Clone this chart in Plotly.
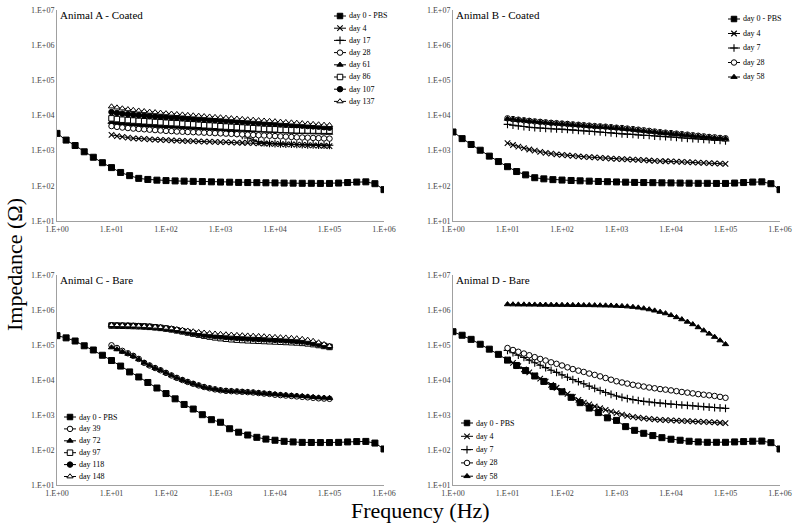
import plotly.graph_objects as go

# Frequency grids (Hz): sweep with ~6 pts/decade for PBS, 10 pts/decade for implants
mant6 = [1.0, 1.47, 2.15, 3.16, 4.64, 6.81]
mant10 = [1.0, 1.26, 1.58, 2.0, 2.51, 3.16, 3.98, 5.01, 6.31, 7.94]
freq_pbs = [m * 10 ** d for d in range(0, 6) for m in mant6] + [1e6]
freq_meas = [m * 10 ** d for d in range(1, 5) for m in mant10] + [1e5]

# ---- Animal A - Coated ----
a_pbs = [3100, 2000, 1400, 930, 650, 455, 330, 240, 195, 163, 152, 145, 141, 138, 136, 134, 132, 130,
         128, 127, 125, 124, 123, 122, 121, 120, 119, 118, 118, 117, 117, 120, 124, 128, 130, 115, 78]
a_d4 = [2800, 2600, 2450, 2350, 2250, 2200, 2150, 2100, 2050, 2020, 2000, 1970, 1940, 1910, 1880, 1860,
        1840, 1820, 1800, 1780, 1760, 1740, 1720, 1700, 1680, 1660, 1640, 1620, 1600, 1580, 1560, 1540,
        1520, 1500, 1480, 1460, 1440, 1420, 1400, 1380, 1350]
a_d17 = [6000, 5750, 5550, 5400, 5250, 5100, 5000, 4900, 4800, 4750, 4700, 4650, 4600, 4550, 4500, 4450,
         4400, 4300, 4200, 4100, 4000, 3800, 3500, 3100, 2700, 2300, 2000, 1800, 1680, 1620, 1580, 1560,
         1540, 1520, 1500, 1490, 1470, 1460, 1440, 1430, 1420]
a_d28 = [5000, 4750, 4550, 4400, 4250, 4150, 4050, 3950, 3850, 3750, 3650, 3600, 3500, 3450, 3400, 3350,
         3300, 3250, 3200, 3150, 3100, 3050, 3000, 2950, 2900, 2850, 2800, 2750, 2700, 2650, 2600, 2550,
         2500, 2450, 2400, 2370, 2340, 2300, 2270, 2230, 2200]
a_d61 = [6600, 6300, 6050, 5850, 5700, 5550, 5400, 5300, 5200, 5100, 5000, 4900, 4800, 4700, 4600, 4500,
         4450, 4350, 4300, 4200, 4150, 4050, 4000, 3950, 3900, 3850, 3800, 3750, 3700, 3650, 3600, 3550,
         3500, 3450, 3400, 3380, 3350, 3300, 3270, 3230, 3200]
a_d86 = [8300, 7900, 7600, 7400, 7200, 7000, 6850, 6700, 6550, 6400, 6250, 6100, 6000, 5850, 5700, 5600,
         5450, 5300, 5200, 5100, 4950, 4850, 4750, 4650, 4550, 4450, 4350, 4250, 4150, 4100, 4050, 3950,
         3900, 3850, 3800, 3780, 3760, 3740, 3720, 3710, 3700]
a_d107 = [12500, 11800, 11300, 10900, 10500, 10200, 9900, 9650, 9400, 9200, 9000, 8800, 8600, 8400, 8200,
          8000, 7800, 7650, 7500, 7350, 7200, 7050, 6900, 6750, 6600, 6450, 6300, 6150, 6000, 5900, 5800,
          5650, 5500, 5400, 5300, 5150, 5000, 4900, 4800, 4650, 4500]
a_d137 = [18000, 16800, 15800, 15000, 14300, 13700, 13200, 12700, 12300, 11900, 11500, 11200, 10900, 10600,
          10300, 10000, 9750, 9500, 9250, 9000, 8800, 8550, 8300, 8100, 7900, 7700, 7500, 7300, 7100, 6950,
          6800, 6600, 6450, 6300, 6150, 6000, 5850, 5700, 5550, 5400, 5300]

# ---- Animal B - Coated ----
b_pbs = [3400, 2200, 1500, 1030, 700, 490, 350, 255, 205, 170, 158, 150, 146, 142, 139, 136, 133, 131,
         129, 127, 125, 124, 123, 122, 121, 120, 119, 118, 118, 117, 117, 120, 124, 128, 130, 115, 78]
b_d4 = [1630, 1450, 1300, 1180, 1080, 1000, 930, 870, 820, 790, 760, 735, 710, 690, 670, 655, 640, 625,
        610, 595, 585, 575, 565, 555, 545, 535, 525, 515, 505, 500, 495, 485, 478, 470, 462, 455, 448, 440,
        433, 426, 420]
b_d7 = [5600, 5300, 5050, 4850, 4650, 4500, 4400, 4300, 4200, 4150, 4100, 4000, 3900, 3800, 3700, 3600,
        3500, 3400, 3300, 3200, 3100, 3000, 2950, 2900, 2800, 2750, 2700, 2600, 2550, 2500, 2450, 2400,
        2300, 2250, 2200, 2150, 2100, 2050, 2000, 1950, 1900]
b_d28 = [8300, 7900, 7600, 7300, 7050, 6800, 6600, 6400, 6200, 6050, 5900, 5750, 5600, 5450, 5300, 5150,
         5000, 4900, 4800, 4650, 4500, 4400, 4250, 4100, 3950, 3800, 3650, 3500, 3350, 3250, 3150, 3050,
         2950, 2850, 2750, 2650, 2550, 2450, 2400, 2300, 2250]
b_d58 = [8000, 7700, 7400, 7150, 6900, 6650, 6450, 6250, 6050, 5900, 5750, 5600, 5450, 5300, 5150, 5000,
         4850, 4750, 4650, 4500, 4400, 4250, 4100, 3950, 3800, 3650, 3500, 3400, 3250, 3150, 3050, 2950,
         2850, 2750, 2650, 2550, 2450, 2400, 2300, 2250, 2200]

# ---- Animal C - Bare ----
c_pbs = [185000, 160000, 130000, 95000, 72000, 51000, 36000, 25000, 17000, 12200, 8500, 5900, 4100, 2900,
         2000, 1480, 1020, 735, 620, 405, 322, 268, 230, 205, 190, 177, 170, 165, 164, 163, 163, 165, 170,
         174, 176, 158, 107]
c_d39 = [98000, 82000, 68000, 58000, 49000, 40000, 31000, 26000, 22000, 19000, 16000, 13500, 11500, 10000,
         8800, 7800, 7000, 6300, 5800, 5400, 5100, 4900, 4800, 4700, 4600, 4500, 4400, 4250, 4100, 4000,
         3800, 3700, 3600, 3500, 3400, 3300, 3200, 3100, 3000, 2950, 2900]
c_d72 = [85000, 75000, 64000, 56000, 48000, 39000, 31000, 26000, 22000, 19000, 16000, 13500, 11500, 10000,
         8800, 7800, 7000, 6300, 5800, 5400, 5100, 4900, 4800, 4700, 4600, 4500, 4400, 4250, 4100, 4000,
         3900, 3800, 3700, 3600, 3550, 3450, 3350, 3250, 3150, 3100, 3050]
c_d97 = [360000, 358000, 355000, 352000, 348000, 344000, 338000, 330000, 320000, 308000, 295000, 280000,
         262000, 245000, 228000, 212000, 198000, 185000, 174000, 165000, 157000, 151000, 146000, 142000,
         139000, 136000, 134000, 132000, 130000, 128000, 126000, 124000, 122000, 120000, 118000, 115000,
         111000, 106000, 100000, 94000, 88000]
c_d118 = [365000, 362000, 359000, 356000, 352000, 348000, 342000, 334000, 324000, 312000, 298000, 283000,
          266000, 250000, 234000, 220000, 207000, 196000, 187000, 180000, 174000, 169000, 164000, 160000,
          156000, 153000, 150000, 147000, 145000, 143000, 140000, 138000, 135000, 132000, 129000, 125000,
          120000, 113000, 105000, 97000, 90000]
c_d148 = [370000, 368000, 365000, 362000, 358000, 354000, 348000, 340000, 332000, 322000, 310000, 297000,
          283000, 270000, 256000, 244000, 233000, 224000, 216000, 210000, 205000, 200000, 196000, 192000,
          188000, 185000, 182000, 179000, 176000, 172000, 168000, 165000, 162000, 158000, 154000, 148000,
          140000, 130000, 118000, 105000, 93000]

# ---- Animal D - Bare ----
d_pbs = [240000, 190000, 145000, 105000, 76000, 54000, 37000, 26000, 18600, 13000, 9100, 6500, 4600, 3200,
         2250, 1580, 1170, 830, 700, 465, 365, 300, 258, 225, 203, 190, 178, 170, 166, 166, 166, 170, 174,
         178, 180, 162, 107]
d_d4 = [38000, 31000, 25000, 20000, 16500, 13500, 11000, 9000, 7300, 6000, 4900, 4000, 3300, 2700, 2250,
        2000, 1750, 1560, 1400, 1250, 1130, 1030, 950, 890, 840, 800, 770, 745, 725, 710, 700, 690, 680,
        670, 660, 650, 640, 630, 615, 600, 585]
d_d7 = [70000, 60000, 51000, 44000, 37000, 31000, 26500, 22500, 19000, 16500, 14000, 12000, 10300, 9000,
        7800, 6700, 5800, 5000, 4400, 3900, 3500, 3200, 2950, 2750, 2600, 2450, 2350, 2250, 2180, 2100,
        2050, 1990, 1930, 1880, 1830, 1780, 1730, 1680, 1630, 1590, 1550]
d_d28 = [82000, 72000, 64000, 57000, 51000, 45000, 40000, 36000, 32000, 29000, 26000, 23000, 20500, 18500,
         17000, 15300, 14000, 12700, 11400, 10200, 9200, 8500, 7900, 7300, 6900, 6500, 6100, 5800, 5500,
         5300, 5050, 4800, 4550, 4350, 4150, 3950, 3800, 3650, 3500, 3300, 3100]
d_d58 = [1450000, 1440000, 1430000, 1430000, 1420000, 1420000, 1410000, 1410000, 1400000, 1400000,
         1390000, 1390000, 1380000, 1380000, 1370000, 1370000, 1360000, 1350000, 1340000, 1330000,
         1310000, 1290000, 1260000, 1220000, 1170000, 1110000, 1040000, 960000, 880000, 800000, 710000,
         620000, 540000, 460000, 390000, 320000, 260000, 210000, 170000, 135000, 105000]

tick_vals = [1, 10, 100, 1e3, 1e4, 1e5, 1e6, 1e7]
tick_text = ["1.E+00", "1.E+01", "1.E+02", "1.E+03", "1.E+04", "1.E+05", "1.E+06", "1.E+07"]

# marker style per day group
styles = {
    "pbs": dict(symbol="square", color="black", line=dict(color="black", width=1)),
    "x": dict(symbol="x-thin", color="black", line=dict(color="black", width=1.1)),
    "plus": dict(symbol="cross-thin", color="black", line=dict(color="black", width=1.1)),
    "ocircle": dict(symbol="circle", color="white", line=dict(color="black", width=1)),
    "ftri": dict(symbol="triangle-up", color="black", line=dict(color="black", width=1)),
    "osquare": dict(symbol="square", color="white", line=dict(color="black", width=1)),
    "fcircle": dict(symbol="circle", color="black", line=dict(color="black", width=1)),
    "otri": dict(symbol="triangle-up", color="white", line=dict(color="black", width=1)),
}

panels = [
    ("Animal A - Coated", [("day 0 - PBS", a_pbs, "pbs"), ("day 4", a_d4, "x"), ("day 17", a_d17, "plus"),
                           ("day 28", a_d28, "ocircle"), ("day 61", a_d61, "ftri"), ("day 86", a_d86, "osquare"),
                           ("day 107", a_d107, "fcircle"), ("day 137", a_d137, "otri")]),
    ("Animal B - Coated", [("day 0 - PBS", b_pbs, "pbs"), ("day 4", b_d4, "x"), ("day 7", b_d7, "plus"),
                           ("day 28", b_d28, "ocircle"), ("day 58", b_d58, "ftri")]),
    ("Animal C - Bare", [("day 0 - PBS", c_pbs, "pbs"), ("day 39", c_d39, "ocircle"), ("day 72", c_d72, "ftri"),
                         ("day 97", c_d97, "osquare"), ("day 118", c_d118, "fcircle"), ("day 148", c_d148, "otri")]),
    ("Animal D - Bare", [("day 0 - PBS", d_pbs, "pbs"), ("day 4", d_d4, "x"), ("day 7", d_d7, "plus"),
                         ("day 28", d_d28, "ocircle"), ("day 58", d_d58, "ftri")]),
]

W, H = 800, 530


def px(x):
    return x / W


def py(y):
    return 1 - y / H


# plot boxes in window pixels: (left, right, top, bottom)
boxes = [(57, 384, 10, 221), (453, 780, 10, 221), (57, 384, 275, 485), (453, 780, 275, 485)]
# hand-made legends: (symbol centre x, first row y, row spacing) in window pixels
legend_pos = [(340, 16, 12.2), (734, 19, 14.5), (70, 417, 11.9), (467, 423, 13.3)]

fig = go.Figure()
layout = dict(width=W, height=H, margin=dict(l=0, r=0, t=0, b=0),
              paper_bgcolor="white", plot_bgcolor="rgba(0,0,0,0)", showlegend=False, hovermode=False,
              font=dict(family="Liberation Serif, Times New Roman, serif", color="black"))
annotations = []

for i, (title, series) in enumerate(panels):
    n = "" if i == 0 else str(i + 1)
    lx, ly, dy = legend_pos[i]
    for j, (name, vals, st) in enumerate(series):
        xs = freq_pbs if st == "pbs" else freq_meas
        msize = 6 if st == "pbs" else 5.5
        fig.add_trace(go.Scatter(
            x=xs, y=vals, name=name, mode="lines+markers",
            line=dict(color="black", width=1),
            marker=dict(size=msize, **styles[st]),
            xaxis="x" + n, yaxis="y" + n))
        # legend entry: short line with marker, then label
        yy = ly + j * dy
        fig.add_trace(go.Scatter(
            x=[lx - 6, lx + 6], y=[yy, yy], mode="lines", line=dict(color="black", width=1),
            xaxis="x9", yaxis="y9", hoverinfo="skip"))
        fig.add_trace(go.Scatter(
            x=[lx], y=[yy], mode="markers", marker=dict(size=5.5, **styles[st]),
            xaxis="x9", yaxis="y9", hoverinfo="skip"))
        annotations.append(dict(text=name, xref="paper", yref="paper", x=px(lx + 7), y=py(yy),
                                xanchor="left", yanchor="middle", showarrow=False,
                                font=dict(size=8, color="black")))
    l, r, t, b = boxes[i]
    axis_common = dict(type="log", showgrid=False, zeroline=False, showline=True, automargin=False,
                       linecolor="#a0a0a0", linewidth=1, ticks="",
                       tickvals=tick_vals, ticktext=tick_text,
                       tickfont=dict(size=8, color="#444444"))
    layout["xaxis" + n] = dict(axis_common, domain=[px(l), px(r)], range=[0, 6], anchor="y" + n)
    layout["yaxis" + n] = dict(axis_common, domain=[py(b), py(t)], range=[1, 7], anchor="x" + n)
    annotations.append(dict(text=title, xref="paper", yref="paper", x=px(l + 1), y=py(t - 3),
                            xanchor="left", yanchor="top", showarrow=False, font=dict(size=11)))

# full-figure overlay axes (window pixel units) used only for legend symbols
layout["xaxis9"] = dict(domain=[0, 1], range=[0, W], visible=False, anchor="y9", fixedrange=True)
layout["yaxis9"] = dict(domain=[0, 1], range=[H, 0], visible=False, anchor="x9", fixedrange=True)

annotations.append(dict(text="Impedance (\u03a9)", xref="paper", yref="paper", x=px(14), y=py(265),
                        xanchor="center", yanchor="middle", textangle=-90, showarrow=False,
                        font=dict(size=22)))
annotations.append(dict(text="Frequency (Hz)", xref="paper", yref="paper", x=px(420), y=py(510),
                        xanchor="center", yanchor="middle", showarrow=False, font=dict(size=22)))
layout["annotations"] = annotations
fig.update_layout(**layout)

# drop the default 8px body margin so the figure fills the window exactly
fig.write_html("out.html", config={"displayModeBar": False},
               post_script="document.body.style.margin = '0';")
